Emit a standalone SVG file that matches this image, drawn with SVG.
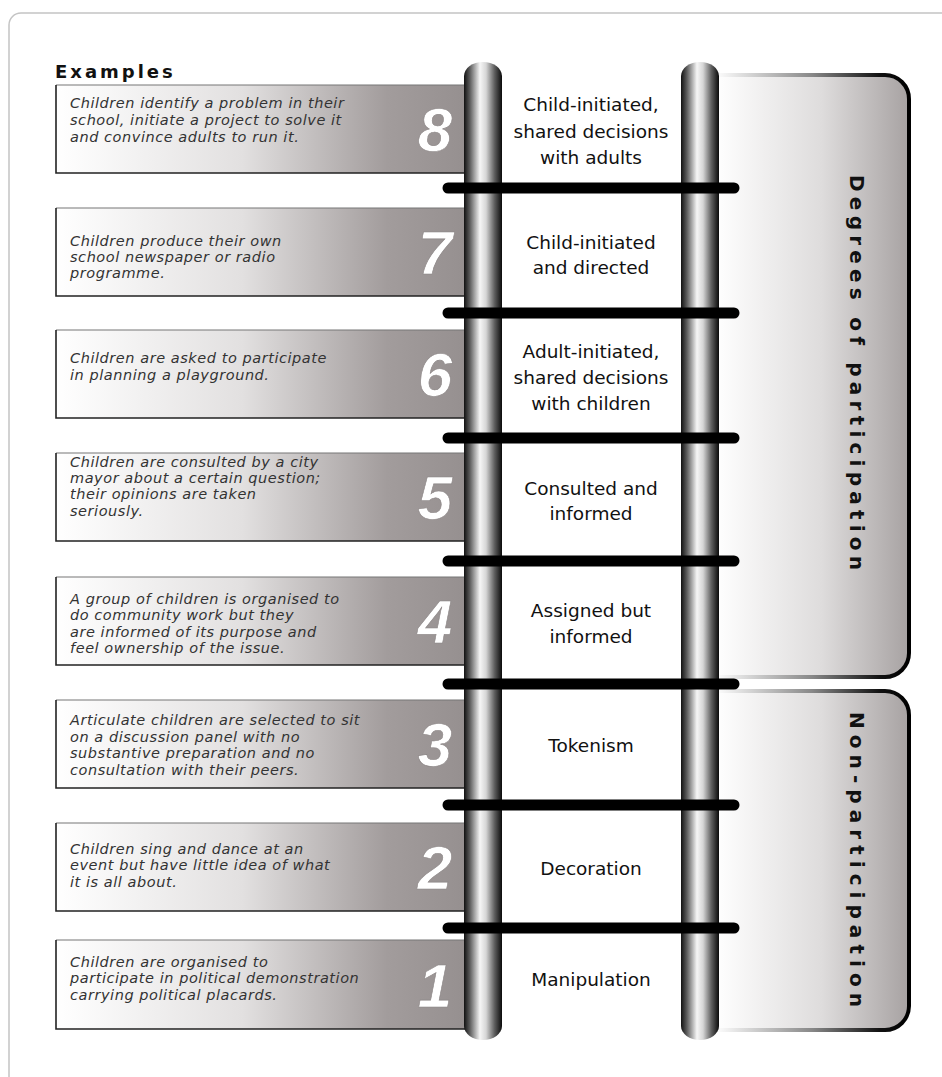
<svg xmlns="http://www.w3.org/2000/svg" width="942" height="1077" viewBox="0 0 942 1077">
<defs>
<linearGradient id="boxFill" x1="0" y1="0" x2="1" y2="0">
<stop offset="0" stop-color="#ffffff"/>
<stop offset="0.45" stop-color="#e2e0e0"/>
<stop offset="0.8" stop-color="#a29c9c"/>
<stop offset="1" stop-color="#958f8f"/>
</linearGradient>
<linearGradient id="panelFill" x1="0" y1="0" x2="1" y2="0">
<stop offset="0" stop-color="#ffffff"/>
<stop offset="0.55" stop-color="#dedcdc"/>
<stop offset="1" stop-color="#a7a2a2"/>
</linearGradient>
<linearGradient id="panelStroke" gradientUnits="userSpaceOnUse" x1="715" y1="0" x2="909" y2="0">
<stop offset="0" stop-color="#ffffff"/>
<stop offset="0.5" stop-color="#888888"/>
<stop offset="0.85" stop-color="#111111"/>
<stop offset="1" stop-color="#000000"/>
</linearGradient>
<linearGradient id="rail" x1="0" y1="0" x2="1" y2="0">
<stop offset="0" stop-color="#111111"/>
<stop offset="0.15" stop-color="#5a5a5a"/>
<stop offset="0.42" stop-color="#f6f6f6"/>
<stop offset="0.58" stop-color="#d6d6d6"/>
<stop offset="0.8" stop-color="#606060"/>
<stop offset="1" stop-color="#0a0a0a"/>
</linearGradient>
</defs>
<style>
.frame{fill:none;stroke:#c4c4c4;stroke-width:1.5}
.box{fill:url(#boxFill)}
.boxTop{fill:none;stroke:#777;stroke-width:1.2}
.boxEdge{fill:none;stroke:#222;stroke-width:1.6}
.ex{font-family:"DejaVu Sans",sans-serif;font-style:italic;font-size:14.5px;letter-spacing:0.55px;fill:#333}
.num{font-family:"Liberation Sans",Arial,sans-serif;font-style:italic;font-weight:bold;font-size:62px;fill:#fff;stroke:#8a8484;stroke-width:0.6;text-anchor:middle}
.lab{font-family:"DejaVu Sans",sans-serif;font-size:18.5px;fill:#111;text-anchor:middle}
.head{font-family:"DejaVu Sans",sans-serif;font-weight:bold;font-size:18px;fill:#111;letter-spacing:3px}
.vert{font-family:"DejaVu Sans",sans-serif;font-weight:bold;font-size:20px;fill:#111}
.panel{fill:url(#panelFill)}
.panelEdge{fill:none;stroke:url(#panelStroke);stroke-width:4}
.rail{fill:url(#rail)}
.rung{stroke:#000;stroke-width:11;stroke-linecap:round}
</style>

<rect class="frame" x="9" y="13" width="980" height="1120" rx="12"/>

<text class="head" x="55" y="78">Examples</text>

<g id="panel-participation">
<path class="panel" d="M715,75 H885 A24,24 0 0 1 909,99 V653 A24,24 0 0 1 885,677 H715 Z"/>
<path class="panelEdge" d="M715,75 H885 A24,24 0 0 1 909,99 V653 A24,24 0 0 1 885,677 H715"/>
<text class="vert" transform="translate(850,175) rotate(90)" textLength="395" lengthAdjust="spacing">Degrees of participation</text>
</g>
<g id="panel-nonparticipation">
<path class="panel" d="M715,691 H885 A24,24 0 0 1 909,715 V1006 A24,24 0 0 1 885,1030 H715 Z"/>
<path class="panelEdge" d="M715,691 H885 A24,24 0 0 1 909,715 V1006 A24,24 0 0 1 885,1030 H715"/>
<text class="vert" transform="translate(850,712) rotate(90)" textLength="295" lengthAdjust="spacing">Non-participation</text>
</g>

<g id="example-8">
<rect class="box" x="56" y="85" width="414" height="88"/>
<path class="boxTop" d="M56,85 H470"/>
<path class="boxEdge" d="M56,85 V173 H470"/>
<text class="ex" x="70" y="108">Children identify a problem in their</text>
<text class="ex" x="70" y="125">school, initiate a project to solve it</text>
<text class="ex" x="70" y="142">and convince adults to run it.</text>
<text class="num" x="435" y="151">8</text>
</g>
<g id="example-7">
<rect class="box" x="56" y="208" width="414" height="88"/>
<path class="boxTop" d="M56,208 H470"/>
<path class="boxEdge" d="M56,208 V296 H470"/>
<text class="ex" x="70" y="246">Children produce their own</text>
<text class="ex" x="70" y="262">school newspaper or radio</text>
<text class="ex" x="70" y="278">programme.</text>
<text class="num" x="435" y="274">7</text>
</g>
<g id="example-6">
<rect class="box" x="56" y="330" width="414" height="88"/>
<path class="boxTop" d="M56,330 H470"/>
<path class="boxEdge" d="M56,330 V418 H470"/>
<text class="ex" x="70" y="363">Children are asked to participate</text>
<text class="ex" x="70" y="380">in planning a playground.</text>
<text class="num" x="435" y="396">6</text>
</g>
<g id="example-5">
<rect class="box" x="56" y="453" width="414" height="88"/>
<path class="boxTop" d="M56,453 H470"/>
<path class="boxEdge" d="M56,453 V541 H470"/>
<text class="ex" x="70" y="467">Children are consulted by a city</text>
<text class="ex" x="70" y="483">mayor about a certain question;</text>
<text class="ex" x="70" y="499">their opinions are taken</text>
<text class="ex" x="70" y="516">seriously.</text>
<text class="num" x="435" y="519">5</text>
</g>
<g id="example-4">
<rect class="box" x="56" y="577" width="414" height="88"/>
<path class="boxTop" d="M56,577 H470"/>
<path class="boxEdge" d="M56,577 V665 H470"/>
<text class="ex" x="70" y="604">A group of children is organised to</text>
<text class="ex" x="70" y="620">do community work but they</text>
<text class="ex" x="70" y="637">are informed of its purpose and</text>
<text class="ex" x="70" y="653">feel ownership of the issue.</text>
<text class="num" x="435" y="643">4</text>
</g>
<g id="example-3">
<rect class="box" x="56" y="700" width="414" height="88"/>
<path class="boxTop" d="M56,700 H470"/>
<path class="boxEdge" d="M56,700 V788 H470"/>
<text class="ex" x="70" y="725">Articulate children are selected to sit</text>
<text class="ex" x="70" y="742">on a discussion panel with no</text>
<text class="ex" x="70" y="758">substantive preparation and no</text>
<text class="ex" x="70" y="775">consultation with their peers.</text>
<text class="num" x="435" y="766">3</text>
</g>
<g id="example-2">
<rect class="box" x="56" y="823" width="414" height="88"/>
<path class="boxTop" d="M56,823 H470"/>
<path class="boxEdge" d="M56,823 V911 H470"/>
<text class="ex" x="70" y="854">Children sing and dance at an</text>
<text class="ex" x="70" y="870">event but have little idea of what</text>
<text class="ex" x="70" y="887">it is all about.</text>
<text class="num" x="435" y="889">2</text>
</g>
<g id="example-1">
<rect class="box" x="56" y="940" width="414" height="89"/>
<path class="boxTop" d="M56,940 H470"/>
<path class="boxEdge" d="M56,940 V1029 H470"/>
<text class="ex" x="70" y="967">Children are organised to</text>
<text class="ex" x="70" y="983">participate in political demonstration</text>
<text class="ex" x="70" y="1000">carrying political placards.</text>
<text class="num" x="435" y="1007">1</text>
</g>

<g id="ladder-rails">
<rect class="rail" x="464" y="62" width="38" height="978" rx="19" ry="14"/>
<rect class="rail" x="681" y="62" width="38" height="978" rx="19" ry="14"/>
</g>
<g id="connectors">
<line class="rung" x1="448" y1="188" x2="734" y2="188"/>
<line class="rung" x1="448" y1="313" x2="734" y2="313"/>
<line class="rung" x1="448" y1="438" x2="734" y2="438"/>
<line class="rung" x1="448" y1="561" x2="734" y2="561"/>
<line class="rung" x1="448" y1="684" x2="734" y2="684"/>
<line class="rung" x1="448" y1="805" x2="734" y2="805"/>
<line class="rung" x1="448" y1="928" x2="734" y2="928"/>
</g>

<g id="level-8">
<text class="lab" x="591" y="111">Child-initiated,</text>
<text class="lab" x="591" y="138">shared decisions</text>
<text class="lab" x="591" y="164">with adults</text>
</g>
<g id="level-7">
<text class="lab" x="591" y="249">Child-initiated</text>
<text class="lab" x="591" y="274">and directed</text>
</g>
<g id="level-6">
<text class="lab" x="591" y="358">Adult-initiated,</text>
<text class="lab" x="591" y="384">shared decisions</text>
<text class="lab" x="591" y="410">with children</text>
</g>
<g id="level-5">
<text class="lab" x="591" y="495">Consulted and</text>
<text class="lab" x="591" y="520">informed</text>
</g>
<g id="level-4">
<text class="lab" x="591" y="617">Assigned but</text>
<text class="lab" x="591" y="643">informed</text>
</g>
<g id="level-3">
<text class="lab" x="591" y="752">Tokenism</text>
</g>
<g id="level-2">
<text class="lab" x="591" y="875">Decoration</text>
</g>
<g id="level-1">
<text class="lab" x="591" y="986">Manipulation</text>
</g>
</svg>
